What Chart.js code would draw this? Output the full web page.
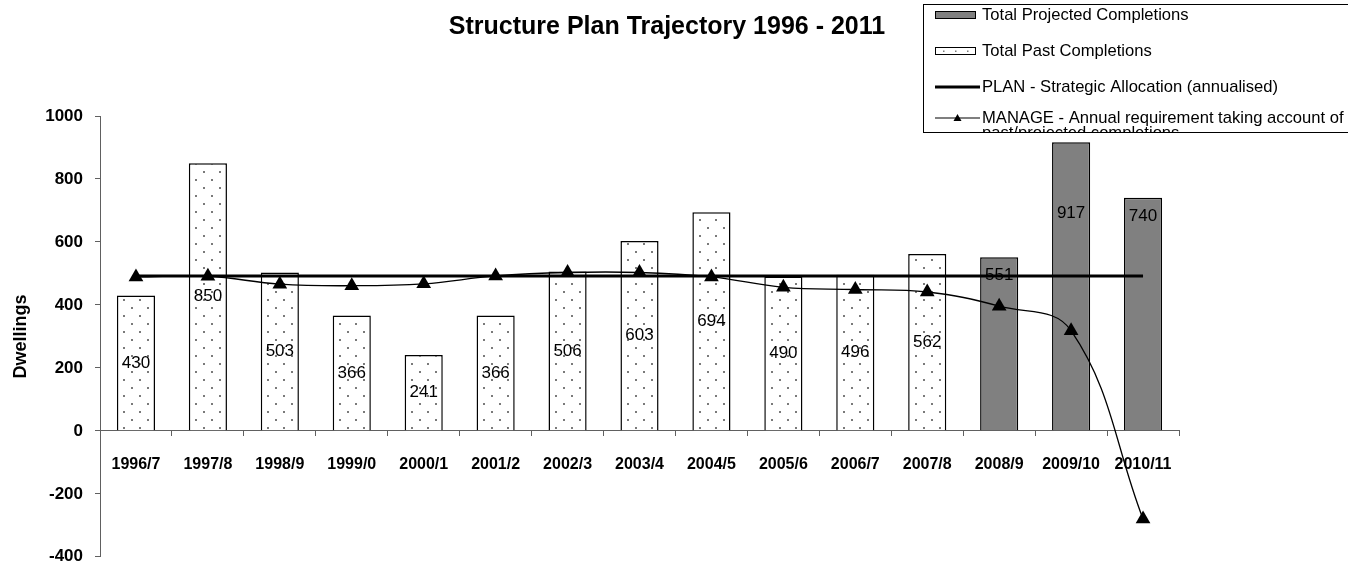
<!DOCTYPE html>
<html><head><meta charset="utf-8">
<script src="https://cdn.jsdelivr.net/npm/chart.js@4.4.0/dist/chart.umd.min.js"></script>
<style>html,body{margin:0;padding:0;background:#fff;overflow:hidden}#wrap{position:relative;width:1348px;height:579px}</style>
</head><body><div id="wrap"><canvas id="c" width="1348" height="579"></canvas></div>
<script>
const categories = ['1996/7','1997/8','1998/9','1999/0','2000/1','2001/2','2002/3','2003/4','2004/5','2005/6','2006/7','2007/8','2008/9','2009/10','2010/11'];
const pastCompletions = [430, 850, 503, 366, 241, 366, 506, 603, 694, 490, 496, 562, null, null, null];
const projectedCompletions = [null, null, null, null, null, null, null, null, null, null, null, null, 551, 917, 740];
const planAllocation = [492, 492, 492, 492, 492, 492, 492, 492, 492, 492, 492, 492, 492, 492, 492];
const manageRequirement = [489, 491, 466, 461, 467, 492, 503, 503, 489, 456, 449, 441, 396, 318, -280];
const yTickValues = [-400, -200, 0, 200, 400, 600, 800, 1000];
const titleText = 'Structure Plan Trajectory 1996 - 2011';
const legendLabels = ['Total Projected Completions', 'Total Past Completions', 'PLAN - Strategic Allocation (annualised)', 'MANAGE - Annual requirement taking account of', 'past/projected completions'];

const FONT = "'Liberation Sans', Arial, sans-serif";

function makeDots() {
  const t = document.createElement('canvas');
  t.width = 16; t.height = 16;
  const g = t.getContext('2d');
  g.fillStyle = '#fff'; g.fillRect(0, 0, 16, 16);
  g.fillStyle = '#7a7a7a';
  g.fillRect(3, 3, 2, 2);
  g.fillRect(11, 11, 2, 2);
  return t;
}
const dotTile = makeDots();
const ctx0 = document.getElementById('c').getContext('2d');
const dotPattern = ctx0.createPattern(dotTile, 'repeat');

const labelPlugin = {
  id: 'barLabels',
  afterDatasetDraw(chart, args, opts) {
    const ds = chart.data.datasets[args.index];
    if (ds.type !== 'bar') return;
    const meta = args.meta;
    const ctx = chart.ctx;
    const y = chart.scales.y;
    ctx.save();
    ctx.font = '17px ' + FONT;
    ctx.fillStyle = '#000';
    ctx.textAlign = 'center';
    ctx.textBaseline = 'middle';
    meta.data.forEach((el, i) => {
      const v = ds.data[i];
      if (v === null || v === undefined) return;
      let ly;
      if (ds.labelMode === 'center') {
        ly = (el.y + el.base) / 2;
      } else {
        ly = Math.max(el.y + opts.inset, y.getPixelForValue(opts.maxLabelValue));
      }
      ctx.fillText(String(v), el.x, ly);
    });
    ctx.restore();
  }
};

const decorPlugin = {
  id: 'decor',
  afterDraw(chart, args, opts) {
    const ctx = chart.ctx;
    ctx.save();
    // title
    ctx.font = 'bold 25px ' + FONT;
    ctx.fillStyle = '#000';
    ctx.textAlign = 'center';
    ctx.textBaseline = 'middle';
    ctx.fillText(titleText, opts.titleX, opts.titleY);
    // legend box
    const b = opts.box;
    ctx.fillStyle = '#fff';
    ctx.fillRect(b.x, b.y, b.w, b.h);
    ctx.strokeStyle = '#000';
    ctx.lineWidth = 1;
    ctx.strokeRect(b.x + 0.5, b.y + 0.5, b.w, b.h);
    ctx.beginPath();
    ctx.rect(b.x + 1, b.y + 1, b.w - 1, b.h - 1);
    ctx.clip();
    const sx = opts.swatchX, sw = opts.swatchW, tx = opts.textX;
    const rows = opts.rows;
    ctx.font = '16.6px ' + FONT;
    ctx.textAlign = 'left';
    ctx.textBaseline = 'middle';
    // projected swatch
    ctx.fillStyle = '#808080';
    ctx.fillRect(sx, rows[0] - 3.5, sw, 7);
    ctx.strokeStyle = '#000'; ctx.lineWidth = 1;
    ctx.strokeRect(sx + 0.5, rows[0] - 3.5, sw, 7);
    // past swatch
    ctx.fillStyle = '#fff';
    ctx.fillRect(sx, rows[1] - 3.5, sw, 7);
    ctx.fillStyle = '#7a7a7a';
    for (let k = 0; k < 3; k++) ctx.fillRect(sx + 8 + k * 12, rows[1] - 0.5, 1.5, 1.5);
    ctx.strokeRect(sx + 0.5, rows[1] - 3.5, sw, 7);
    // plan swatch
    ctx.beginPath(); ctx.lineWidth = 3;
    ctx.moveTo(sx, rows[2]); ctx.lineTo(sx + sw + 5, rows[2]); ctx.stroke();
    // manage swatch
    ctx.beginPath(); ctx.lineWidth = 1.2;
    ctx.moveTo(sx, rows[3]); ctx.lineTo(sx + sw + 5, rows[3]); ctx.stroke();
    const cx = sx + (sw + 5) / 2;
    ctx.beginPath(); ctx.fillStyle = '#000';
    ctx.moveTo(cx, rows[3] - 4); ctx.lineTo(cx + 4, rows[3] + 3); ctx.lineTo(cx - 4, rows[3] + 3); ctx.closePath(); ctx.fill();
    ctx.fillStyle = '#000';
    ctx.fillText(legendLabels[0], tx, rows[0]);
    ctx.fillText(legendLabels[1], tx, rows[1]);
    ctx.fillText(legendLabels[2], tx, rows[2]);
    ctx.fillText(legendLabels[3], tx, rows[3]);
    ctx.fillText(legendLabels[4], tx, rows[3] + opts.wrapGap);
    ctx.restore();
  }
};

const axisColor = '#606060';

new Chart(document.getElementById('c'), {
  data: {
    labels: categories,
    datasets: [
      { type: 'line', label: 'MANAGE', data: manageRequirement, borderColor: '#000', backgroundColor: '#000', borderWidth: 1.3, tension: 0.4, pointStyle: 'triangle', pointRadius: 8.5, pointBackgroundColor: '#000', pointBorderColor: '#000', pointBorderWidth: 0, order: 0 },
      { type: 'line', label: 'PLAN', data: planAllocation, borderColor: '#000', borderWidth: 3, pointRadius: 0, tension: 0, order: 1 },
      { type: 'bar', label: 'Total Past Completions', data: pastCompletions, backgroundColor: dotPattern, borderColor: '#000', borderWidth: 1.5, barPercentage: 0.53, categoryPercentage: 1, labelMode: 'center', order: 2 },
      { type: 'bar', label: 'Total Projected Completions', data: projectedCompletions, backgroundColor: '#808080', borderColor: '#000', borderWidth: 1.5, barPercentage: 0.53, categoryPercentage: 1, labelMode: 'end', order: 3 }
    ]
  },
  options: {
    responsive: false,
    animation: false,
    devicePixelRatio: 1,
    layout: { padding: { left: 0, right: 169, top: 116, bottom: 14 } },
    plugins: {
      legend: { display: false },
      tooltip: { enabled: false },
      title: { display: false },
      barLabels: { inset: 18, maxLabelValue: 690 },
      decor: {
        titleX: 667, titleY: 27,
        box: { x: 923, y: 4, w: 440, h: 128 },
        swatchX: 935, swatchW: 40, textX: 982,
        rows: [15, 51, 87, 118], wrapGap: 15
      }
    },
    scales: {
      x: {
        type: 'category',
        stacked: true,
        offset: true,
        position: { y: 0 },
        grid: { drawOnChartArea: false, drawTicks: true, tickLength: 5, color: axisColor, offset: true },
        border: { color: axisColor, width: 1 },
        ticks: { color: '#000', font: { family: FONT, size: 16, weight: 'bold' }, padding: 19, maxRotation: 0, autoSkip: false }
      },
      y: {
        min: -400, max: 1000,
        afterBuildTicks: (s) => { s.ticks = yTickValues.map(v => ({ value: v })); },
        afterFit: (s) => { s.width = 100; },
        grid: { drawOnChartArea: false, drawTicks: true, tickLength: 5, color: axisColor },
        border: { color: axisColor, width: 1 },
        ticks: { color: '#000', font: { family: FONT, size: 17, weight: 'bold' }, padding: 12, callback: (v) => String(v) },
        title: { display: true, text: 'Dwellings', color: '#000', font: { family: FONT, size: 18, weight: 'bold' }, padding: { top: 10, bottom: 0 } }
      }
    }
  },
  plugins: [labelPlugin, decorPlugin]
});
</script></body></html>
